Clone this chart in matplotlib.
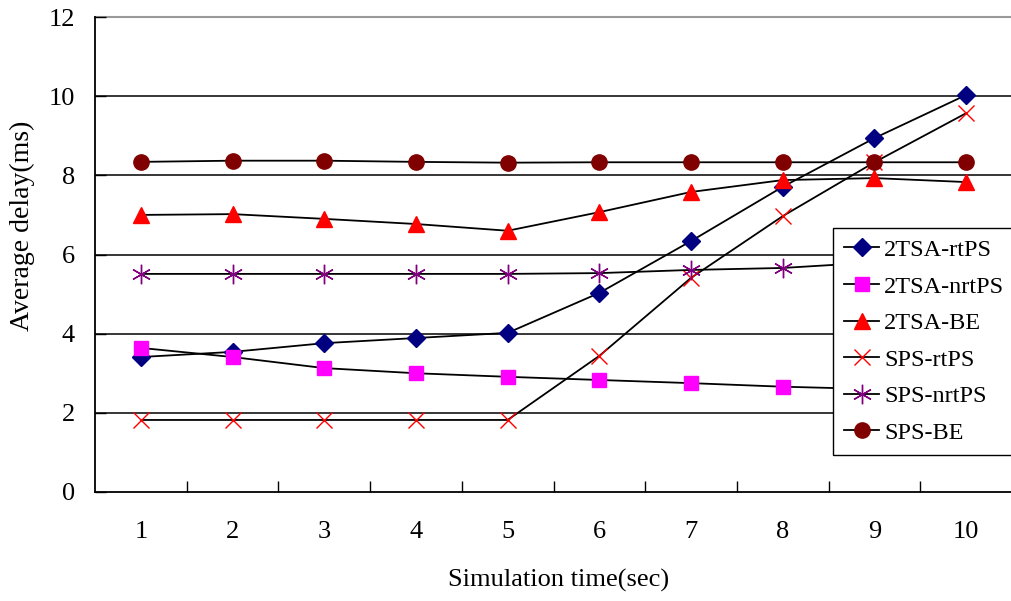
import matplotlib
matplotlib.use("Agg")
import matplotlib.pyplot as plt

x = [1, 2, 3, 4, 5, 6, 7, 8, 9, 10]
tsa_rtps = [3.41, 3.54, 3.76, 3.89, 4.02, 5.03, 6.34, 7.71, 8.94, 10.03]
tsa_nrtps = [3.64, 3.41, 3.13, 3.00, 2.91, 2.83, 2.75, 2.66, 2.60, 2.55]
tsa_be = [7.00, 7.02, 6.90, 6.77, 6.60, 7.07, 7.58, 7.88, 7.93, 7.83]
sps_rtps = [1.82, 1.82, 1.82, 1.82, 1.82, 3.44, 5.41, 6.97, 8.33, 9.57]
sps_nrtps = [5.51, 5.51, 5.51, 5.51, 5.51, 5.53, 5.61, 5.66, 5.80, 5.85]
sps_be = [8.34, 8.37, 8.37, 8.34, 8.32, 8.33, 8.33, 8.33, 8.33, 8.33]

plt.rcParams['font.family'] = ['Liberation Serif', 'DejaVu Serif']

fig = plt.figure(figsize=(10.11, 6.01), dpi=100)
ax = fig.add_axes([95/1011, 109/601, 917/1011, 475/601])

fs = 19
series = [
    (tsa_rtps, '2TSA-rtPS', 'D', '#000080', 9, None),
    (tsa_nrtps, '2TSA-nrtPS', 's', '#FF00FF', 10.5, None),
    (tsa_be, '2TSA-BE', '^', '#FF0000', 11, None),
    (sps_rtps, 'SPS-rtPS', 'x', '#FF0000', 12, 1.0),
    (sps_nrtps, 'SPS-nrtPS', (6, 2, 0), '#800080', 14, 1.0),
    (sps_be, 'SPS-BE', 'o', '#800000', 11, None),
]
for vals, lab, m, c, ms, mew in series:
    kw = dict(color='black', lw=1.3, marker=m, markersize=ms,
              markerfacecolor=c, markeredgecolor=c, label=lab, zorder=3)
    if mew is not None:
        kw['markeredgewidth'] = mew
    ax.plot(x, vals, **kw)

ax.set_xlim(0.5, 10.5)
ax.set_ylim(0, 12)
ax.set_yticks(range(0, 13, 2))
ax.set_xticks(x)
ax.set_xticks([i + 0.5 for i in range(1, 10)], minor=True)
ax.tick_params(axis='x', which='major', length=0, labelsize=fs, pad=21)
ax.tick_params(axis='x', which='minor', direction='in', length=8, width=1)
ax.tick_params(axis='y', direction='in', length=8, width=1, labelsize=fs, pad=14.5)
for yv in range(2, 12, 2):
    ax.axhline(yv, color='black', lw=1.1, zorder=1)
ax.axhline(12, color='#999999', lw=1.5, zorder=1, clip_on=False)
for s in ['top', 'right']:
    ax.spines[s].set_visible(False)
ax.spines['left'].set_linewidth(1.3)
ax.spines['bottom'].set_linewidth(1.3)

fig.text(559/1011, 1 - 580/601, 'Simulation time(sec)', fontsize=fs,
         ha='center', va='center')
fig.text(22/1011, 1 - 226/601, 'Average delay(ms)', fontsize=20,
         ha='center', va='center', rotation=90)

leg = ax.legend(loc='upper left', bbox_to_anchor=(833/1011, 1 - 228/601),
                bbox_transform=fig.transFigure, borderaxespad=0,
                fontsize=17.5, frameon=True, fancybox=False, edgecolor='black',
                framealpha=1, handlelength=1.45, labelspacing=0.6,
                handletextpad=0.2, borderpad=0.45)
leg.get_frame().set_linewidth(1.0)
leg.set_zorder(5)

fig.savefig('out.png', dpi=100)
